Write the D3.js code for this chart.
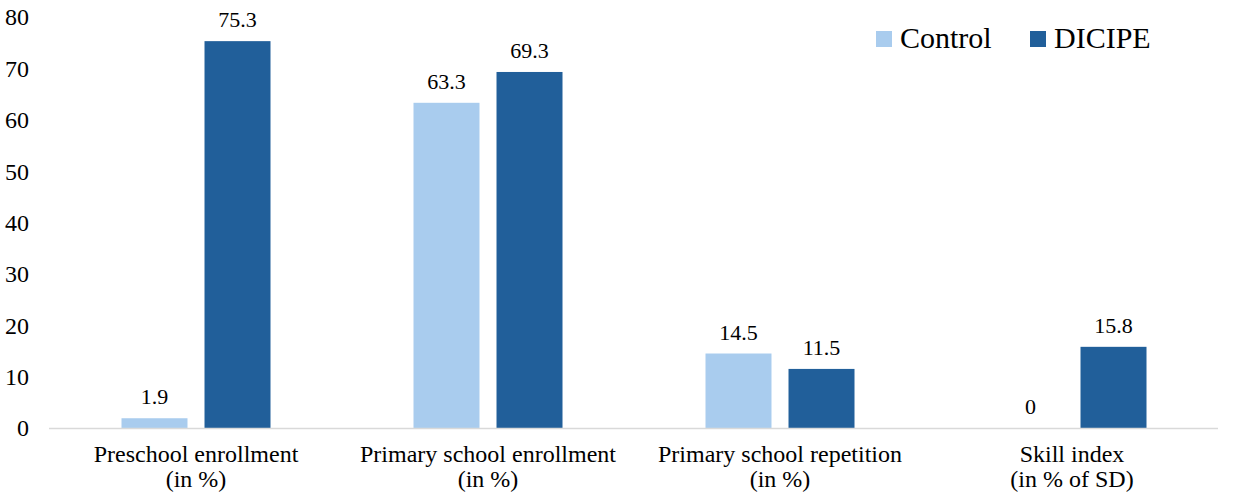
<!DOCTYPE html>
<html>
<head>
<meta charset="utf-8">
<script src="https://cdn.jsdelivr.net/npm/d3@7"></script>
</head>
<body style="margin:0">
<svg id="chart" width="1234" height="502"></svg>
<script>
const categories = [
  ["Preschool enrollment", "(in %)"],
  ["Primary school enrollment", "(in %)"],
  ["Primary school repetition", "(in %)"],
  ["Skill index", "(in % of SD)"]
];
const seriesNames = ["Control", "DICIPE"];
const controlValues = [1.9, 63.3, 14.5, 0];
const dicipeValues = [75.3, 69.3, 11.5, 15.8];
const yTicks = [0, 10, 20, 30, 40, 50, 60, 70, 80];
const colors = ["#A9CCEE", "#215F9A"];

const FONT = "'Times New Roman', 'Liberation Serif', serif";
const svg = d3.select("#chart");
const seriesValues = [controlValues, dicipeValues];

const mLeft = 50, mRight = 1218, mTop = 17, mBottom = 428;

const x0 = d3.scaleBand().domain(d3.range(categories.length)).range([mLeft, mRight]).padding(0);
const bw = x0.bandwidth();
const x1 = d3.scaleBand().domain(seriesNames)
  .range([bw / 2 - 74.5, bw / 2 + 74.5]).paddingInner(0.205).paddingOuter(0);
const y = d3.scaleLinear().domain([0, 80]).range([mBottom, mTop]);

// Y axis tick labels
const yAxis = d3.axisLeft(y).tickValues(yTicks).tickSize(0).tickPadding(0).tickFormat(d3.format("d"));
const gy = svg.append("g").attr("transform", "translate(29,0)").call(yAxis);
gy.attr("font-family", null).attr("font-size", null);
gy.select(".domain").remove();
gy.selectAll("text").style("font-family", FONT).style("font-size", "24px").attr("fill", "#000").attr("dy", "0.33em");

// Bars and value labels
categories.forEach((c, i) => {
  seriesNames.forEach((s, j) => {
    const v = seriesValues[j][i];
    const bx = x0(i) + x1(s);
    svg.append("rect")
      .attr("x", bx).attr("y", y(v))
      .attr("width", x1.bandwidth()).attr("height", mBottom - y(v))
      .attr("fill", colors[j]);
    svg.append("text")
      .style("font-family", FONT).style("font-size", "22px")
      .attr("x", bx + x1.bandwidth() / 2).attr("y", y(v) - 14)
      .attr("text-anchor", "middle").attr("fill", "#000")
      .text(String(v));
  });
});

// X axis line
svg.append("line").attr("x1", mLeft - 1).attr("x2", mRight).attr("y1", mBottom + 0.5).attr("y2", mBottom + 0.5)
  .attr("stroke", "#D9D9D9").attr("stroke-width", 1.5);

// Category labels
categories.forEach((c, i) => {
  c.forEach((line, k) => {
    svg.append("text").style("font-family", FONT).style("font-size", "24px")
      .attr("text-anchor", "middle").attr("fill", "#000")
      .attr("x", x0(i) + bw / 2).attr("y", 462 + k * 25).text(line);
  });
});

// Legend
const legendX = [876, 1030];
seriesNames.forEach((s, j) => {
  svg.append("rect").attr("x", legendX[j]).attr("y", 31).attr("width", 16).attr("height", 16).attr("fill", colors[j]);
  svg.append("text").style("font-family", FONT).style("font-size", "30px")
    .attr("x", legendX[j] + 24).attr("y", 48).attr("fill", "#000").text(s);
});
</script>
</body>
</html>
